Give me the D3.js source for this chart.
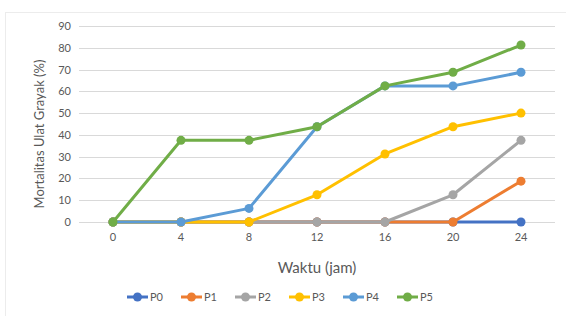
<!DOCTYPE html>
<html>
<head>
<meta charset="utf-8">
<script src="https://cdn.jsdelivr.net/npm/d3@7"></script>
<style>
  body { margin: 0; background: #fff; }
  text { font-family: Lato, "Open Sans", sans-serif; fill: #595959; }
</style>
</head>
<body>
<div class="chart"></div>
<script>
var svgWidth = 566;
var svgHeight = 316;

// data
var hours = ["0", "4", "8", "12", "16", "20", "24"];
var seriesNames = ["P0", "P1", "P2", "P3", "P4", "P5"];
var p0 = [0, 0, 0, 0, 0, 0, 0];
var p1 = [0, 0, 0, 0, 0, 0, 18.75];
var p2 = [0, 0, 0, 0, 0, 12.5, 37.5];
var p3 = [0, 0, 0, 12.5, 31.25, 43.75, 50];
var p4 = [0, 0, 6.25, 43.75, 62.5, 62.5, 68.75];
var p5 = [0, 37.5, 37.5, 43.75, 62.5, 68.75, 81.25];
var yTicks = [0, 10, 20, 30, 40, 50, 60, 70, 80, 90];
var colors = ["#4472C4", "#ED7D31", "#A5A5A5", "#FFC000", "#5B9BD5", "#70AD47"];

var allSeries = [p0, p1, p2, p3, p4, p5];

var margin = { top: 26, right: 11, bottom: 94, left: 79 };
var width = svgWidth - margin.left - margin.right;
var height = svgHeight - margin.top - margin.bottom;

var svg = d3.select(".chart")
  .append("svg")
  .attr("width", svgWidth)
  .attr("height", svgHeight);

// faint chart frame
svg.append("rect")
  .attr("x", 5.5).attr("y", 12.5)
  .attr("width", 566).attr("height", 310)
  .attr("fill", "none")
  .attr("stroke", "#ececec");

var chartGroup = svg.append("g")
  .attr("transform", `translate(${margin.left}, ${margin.top})`);

var xScale = d3.scaleBand()
  .domain(hours)
  .range([0, width]);

var yScale = d3.scaleLinear()
  .domain([0, 90])
  .range([height, 0]);

// gridlines
chartGroup.selectAll(".grid")
  .data(yTicks)
  .enter()
  .append("line")
  .attr("x1", 0)
  .attr("x2", width)
  .attr("y1", d => Math.round(yScale(d)) + 0.5)
  .attr("y2", d => Math.round(yScale(d)) + 0.5)
  .attr("stroke", "#d9d9d9")
  .attr("stroke-width", 1);

// y axis labels
var yAxis = d3.axisLeft(yScale).tickValues(yTicks).tickSize(0).tickPadding(8);
var yG = chartGroup.append("g").call(yAxis);
yG.select(".domain").remove();
yG.selectAll("text").style("font-size", "11px").attr("fill", "#6b6b6b");

// x axis labels
var xAxis = d3.axisBottom(xScale).tickSize(0).tickPadding(11);
var xG = chartGroup.append("g")
  .attr("transform", `translate(0, ${height})`)
  .call(xAxis);
xG.select(".domain").remove();
xG.selectAll("text").style("font-size", "11px").attr("fill", "#6b6b6b");

var line = d3.line()
  .x((d, i) => xScale(hours[i]) + xScale.bandwidth() / 2)
  .y(d => yScale(d));

allSeries.forEach(function(vals, s) {
  chartGroup.append("path")
    .datum(vals)
    .attr("d", line)
    .attr("fill", "none")
    .attr("stroke", colors[s])
    .attr("stroke-width", 3)
    .attr("stroke-linejoin", "round");
  chartGroup.selectAll(".pt" + s)
    .data(vals)
    .enter()
    .append("circle")
    .attr("cx", (d, i) => xScale(hours[i]) + xScale.bandwidth() / 2)
    .attr("cy", d => yScale(d))
    .attr("r", 4.5)
    .attr("fill", colors[s]);
});

// axis titles
svg.append("text")
  .attr("transform", `translate(44, ${margin.top + height / 2 + 10}) rotate(-90)`)
  .attr("text-anchor", "middle")
  .style("font-size", "13px")
  .text("Mortalitas Ulat Grayak (%)");

svg.append("text")
  .attr("x", margin.left + width / 2)
  .attr("y", 273)
  .attr("text-anchor", "middle")
  .style("font-size", "15px")
  .text("Waktu (jam)");

// legend
var legend = svg.append("g").attr("transform", "translate(127, 297)");
var item = legend.selectAll("g")
  .data(seriesNames)
  .enter()
  .append("g")
  .attr("transform", (d, i) => `translate(${i * 54}, 0)`);
item.append("line")
  .attr("x1", 0).attr("x2", 21)
  .attr("stroke", (d, i) => colors[i])
  .attr("stroke-width", 3);
item.append("circle")
  .attr("cx", 10.5).attr("r", 4.5)
  .attr("fill", (d, i) => colors[i]);
item.append("text")
  .attr("x", 23).attr("y", 4)
  .style("font-size", "11px")
  .text(d => d);
</script>
</body>
</html>
